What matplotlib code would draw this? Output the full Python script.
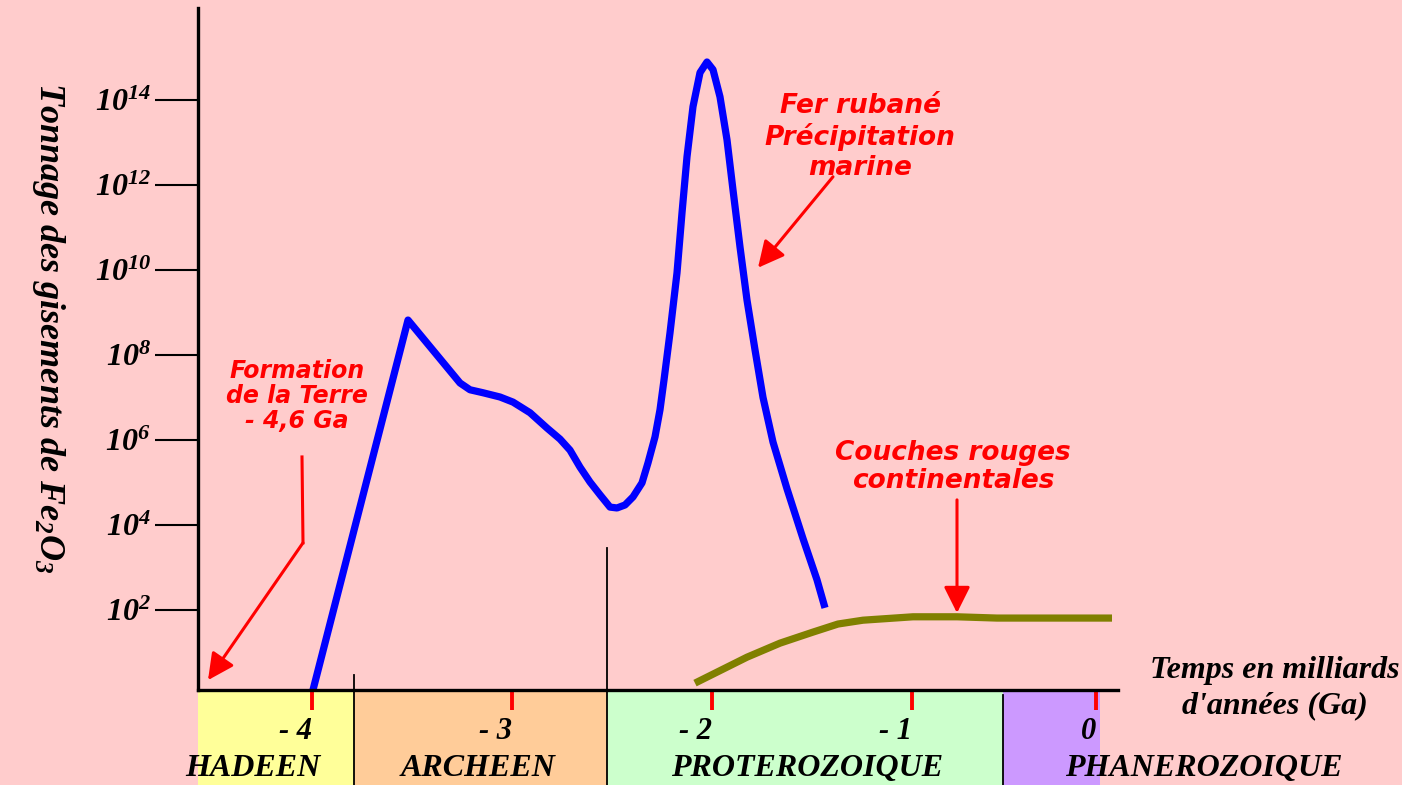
import matplotlib
matplotlib.use("Agg")
import matplotlib.pyplot as plt
from matplotlib.patches import Rectangle

BG = "#FFCCCC"
RED = "#FF0000"
BLUE = "#0000FF"
OLIVE = "#808000"

plt.rcParams.update({
    "font.family": "Liberation Serif", "font.weight": "bold", "font.style": "italic",
    "axes.labelweight": "bold",
    "mathtext.fontset": "custom",
    "mathtext.rm": "Liberation Serif:italic:bold",
    "mathtext.it": "Liberation Serif:italic:bold",
    "mathtext.bf": "Liberation Serif:italic:bold",
    "figure.facecolor": BG, "axes.facecolor": BG, "savefig.facecolor": BG,
})

# ---- data: x = time in Ga (negative = ago), y = log10(tonnage Fe2O3) ----
bif_ga = [-3.995, -3.52, -3.26, -3.21, -3.145, -3.06, -2.995, -2.91, -2.825, -2.76,
          -2.71, -2.66, -2.61, -2.56, -2.51, -2.475, -2.435, -2.395, -2.35, -2.32,
          -2.285, -2.26, -2.24, -2.21, -2.175, -2.15, -2.125, -2.095, -2.06, -2.025,
          -1.995, -1.96, -1.925, -1.895, -1.86, -1.825, -1.785, -1.745, -1.695,
          -1.625, -1.545, -1.475, -1.435]
bif_log = [0.12, 8.82, 7.34, 7.18, 7.11, 7.01, 6.89, 6.64, 6.28, 6.02,
           5.76, 5.36, 5.01, 4.71, 4.42, 4.40, 4.47, 4.66, 4.99, 5.46,
           6.07, 6.71, 7.41, 8.52, 9.93, 11.34, 12.66, 13.84, 14.64, 14.89,
           14.71, 14.07, 13.06, 11.88, 10.54, 9.29, 8.12, 7.0, 5.95,
           4.85, 3.68, 2.71, 2.05]

redbed_ga = [-2.085, -1.825, -1.66, -1.495, -1.37, -1.245, -0.995, -0.775, -0.575, 0.0]
redbed_log = [0.28, 0.89, 1.22, 1.48, 1.67, 1.76, 1.84, 1.84, 1.81, 1.81]

xtick_ga = [-4, -3, -2, -1, -0.08]
xtick_labels = ["- 4", "- 3", "- 2", "- 1", "0"]
ytick_log = [2, 4, 6, 8, 10, 12, 14]

eras = ["HADEEN", "ARCHEEN", "PROTEROZOIQUE", "PHANEROZOIQUE"]
era_edges = [-4.57, -3.79, -2.525, -0.545, -0.06]
era_colors = ["#FFFF99", "#FFCC99", "#CCFFCC", "#CC99FF"]
era_label_x = [-4.295, -3.17, -1.525, 0.46]

X0, X1 = -4.57, 0.03
Y0, Y1 = 0.118, 16.16
YBOT = -2.2  # bottom of the figure in data units

fig = plt.figure(figsize=(14.02, 7.85), dpi=100)
ax = fig.add_axes([198 / 1402, 95 / 785, 920 / 1402, 682 / 785])
ax.set_xlim(X0, X1); ax.set_ylim(Y0, Y1)
for s in ("top", "right"):
    ax.spines[s].set_visible(False)
for s in ("left", "bottom"):
    ax.spines[s].set_linewidth(2.4); ax.spines[s].set_zorder(6)

# era bands under the time axis
for i, (name, col) in enumerate(zip(eras, era_colors)):
    ax.add_patch(Rectangle((era_edges[i], YBOT), era_edges[i + 1] - era_edges[i], Y0 - YBOT,
                           facecolor=col, edgecolor="none", clip_on=False, zorder=1))
    ax.text(era_label_x[i], -1.72, name, ha="center", va="center", fontsize=23, zorder=5)
for xb, ytop in ((-3.79, 0.47), (-2.525, 3.46), (-0.545, 0.0)):
    ax.plot([xb, xb], [ytop, YBOT], color="black", lw=1.3, clip_on=False, zorder=4)

# ticks
ax.set_xticks(xtick_ga, labels=xtick_labels, fontsize=22)
ax.tick_params(axis="x", direction="out", length=14.5, width=2.8, color=RED, pad=5)
for lbl in ax.get_xticklabels():
    lbl.set_horizontalalignment("right")
ax.set_yticks(ytick_log, labels=[f"$10^{{{v}}}$" for v in ytick_log], fontsize=23)
ax.tick_params(axis="y", direction="out", length=31, width=1.5, color="black", pad=3)

# curves
ax.plot(bif_ga, bif_log, color=BLUE, lw=5.2, solid_capstyle="butt", solid_joinstyle="round",
        clip_on=False, zorder=3)
ax.plot(redbed_ga, redbed_log, color=OLIVE, lw=5.2, solid_capstyle="butt",
        solid_joinstyle="round", clip_on=False, zorder=3)

# annotations
ann = dict(color=RED, family="DejaVu Sans", weight="bold", style="oblique",
           ha="center", va="center")
arrow = dict(arrowstyle="-|>,head_length=0.8,head_width=0.4", color=RED, lw=2.2,
             mutation_scale=20, shrinkA=0, shrinkB=0)

ax.text(-4.075, 7.04, "Formation\nde la Terre\n- 4,6 Ga", fontsize=17, linespacing=1.05, **ann)
ax.plot([-4.05, -4.045], [5.6, 3.58], color=RED, lw=2.2)
ax.annotate("", xy=(-4.52, 0.35), xytext=(-4.045, 3.58), arrowprops=arrow, annotation_clip=False)

ax.text(-1.26, 13.13, "Fer rubané\nPrécipitation\nmarine", fontsize=19, linespacing=1.2, **ann)
ax.annotate("", xy=(-1.77, 10.05), xytext=(-1.395, 12.19), arrowprops=arrow)

ax.text(-0.795, 5.36, "Couches rouges\ncontinentales", fontsize=19, linespacing=1.1, **ann)
ax.annotate("", xy=(-0.775, 1.93), xytext=(-0.775, 4.59), arrowprops=arrow)

# axis titles
ax.text(0.815, 0.165, "Temps en milliards\nd'années (Ga)", fontsize=23, ha="center",
        va="center", linespacing=1.3, clip_on=False)
ax.set_ylabel("Tonnage des gisements de Fe$_2$O$_3$", fontsize=26, rotation=270)
ax.yaxis.set_label_coords(-0.1826, 0.531)

fig.savefig("out.png", dpi=100)
